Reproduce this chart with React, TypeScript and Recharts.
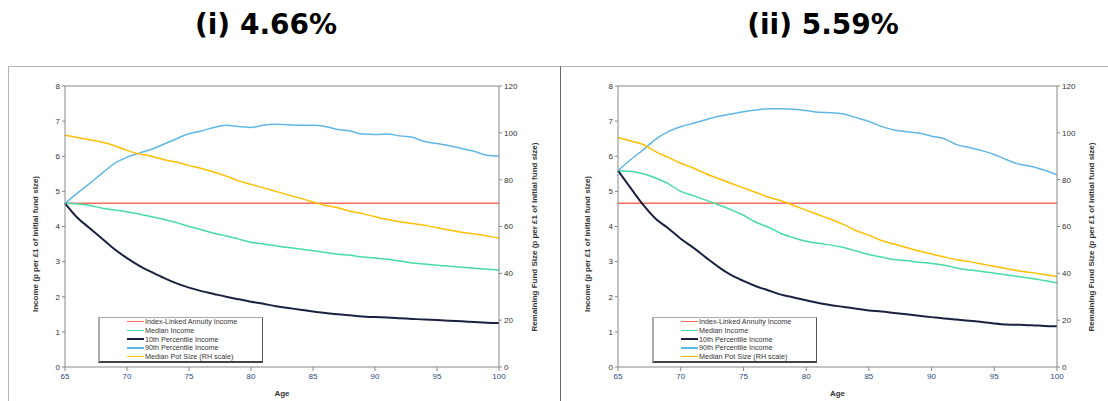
import React from 'react'
import { LineChart, Line, XAxis, YAxis, ReferenceLine } from 'recharts'

const ages = [
  65, 66, 67, 68, 69, 70, 71, 72, 73, 74, 75, 76, 77, 78, 79, 80, 81, 82,
  83, 84, 85, 86, 87, 88, 89, 90, 91, 92, 93, 94, 95, 96, 97, 98, 99, 100,
]

const titles = ['(i) 4.66%', '(ii) 5.59%']

// (i) 4.66% withdrawal
const annuityA = [
  4.66, 4.66, 4.66, 4.66, 4.66, 4.66, 4.66, 4.66, 4.66, 4.66, 4.66, 4.66,
  4.66, 4.66, 4.66, 4.66, 4.66, 4.66, 4.66, 4.66, 4.66, 4.66, 4.66, 4.66,
  4.66, 4.66, 4.66, 4.66, 4.66, 4.66, 4.66, 4.66, 4.66, 4.66, 4.66, 4.66,
]
const medianA = [
  4.66, 4.64, 4.6, 4.52, 4.47, 4.42, 4.35, 4.28, 4.2, 4.11, 4.0, 3.91, 3.81,
  3.73, 3.64, 3.55, 3.5, 3.45, 3.4, 3.36, 3.31, 3.26, 3.21, 3.18, 3.13, 3.1,
  3.07, 3.02, 2.96, 2.93, 2.9, 2.87, 2.84, 2.81, 2.79, 2.76,
]
const p10A = [
  4.66, 4.25, 3.95, 3.65, 3.35, 3.1, 2.88, 2.7, 2.53, 2.38, 2.26, 2.16, 2.08,
  2.0, 1.93, 1.86, 1.8, 1.73, 1.68, 1.63, 1.58, 1.54, 1.5, 1.47, 1.44, 1.42,
  1.41, 1.39, 1.37, 1.35, 1.34, 1.32, 1.3, 1.28, 1.26, 1.25,
]
const p90A = [
  4.66, 4.95, 5.23, 5.52, 5.8, 5.97, 6.09, 6.2, 6.35, 6.5, 6.64, 6.72, 6.82,
  6.88, 6.85, 6.82, 6.88, 6.91, 6.9, 6.88, 6.88, 6.85, 6.76, 6.72, 6.63, 6.62,
  6.63, 6.58, 6.54, 6.42, 6.36, 6.3, 6.22, 6.14, 6.03, 6.0,
]
const potA = [
  99, 98, 97, 96, 94.5, 92.5, 91, 90, 88.5, 87.5, 86, 84.8, 83.3, 81.5, 79.5,
  78, 76.5, 75, 73.5, 72, 70.5, 69, 68, 66.5, 65.5, 64.2, 63, 62, 61.3, 60.5,
  59.5, 58.5, 57.5, 56.8, 56, 55,
]

// (ii) 5.59% withdrawal
const annuityB = [
  4.66, 4.66, 4.66, 4.66, 4.66, 4.66, 4.66, 4.66, 4.66, 4.66, 4.66, 4.66,
  4.66, 4.66, 4.66, 4.66, 4.66, 4.66, 4.66, 4.66, 4.66, 4.66, 4.66, 4.66,
  4.66, 4.66, 4.66, 4.66, 4.66, 4.66, 4.66, 4.66, 4.66, 4.66, 4.66, 4.66,
]
const medianB = [
  5.59, 5.57, 5.5, 5.38, 5.22, 5.0, 4.88, 4.75, 4.62, 4.48, 4.32, 4.12, 3.98,
  3.8, 3.68, 3.58, 3.52, 3.47, 3.4, 3.3, 3.2, 3.13, 3.06, 3.03, 2.98, 2.95,
  2.9, 2.82, 2.76, 2.72, 2.67, 2.62, 2.57, 2.52, 2.46, 2.4,
]
const p10B = [
  5.59, 5.1, 4.62, 4.22, 3.95, 3.65, 3.4, 3.12, 2.85, 2.62, 2.45, 2.3, 2.18,
  2.06, 1.98, 1.9, 1.82, 1.76, 1.71, 1.66, 1.61, 1.58, 1.54, 1.5, 1.46, 1.42,
  1.38, 1.35, 1.32, 1.28, 1.24, 1.21, 1.2, 1.19, 1.17, 1.16,
]
const p90B = [
  5.59, 5.9, 6.18, 6.48, 6.7, 6.84, 6.94, 7.04, 7.14, 7.2, 7.27, 7.32, 7.35,
  7.35, 7.34, 7.3, 7.25, 7.24, 7.2, 7.1, 6.99, 6.85, 6.75, 6.7, 6.66, 6.57,
  6.5, 6.33, 6.25, 6.16, 6.05, 5.9, 5.77, 5.71, 5.6, 5.47,
]
const potB = [
  98, 96.5, 95, 92, 89.5, 87, 85, 82.5, 80.5, 78.5, 76.5, 74.5, 72.5, 71, 69,
  67, 65, 63, 60.8, 58.2, 56.3, 54, 52.5, 51, 49.5, 48.3, 47, 45.8, 45, 44,
  43, 42, 41, 40.3, 39.5, 38.6,
]

const leftTicks = [0, 1, 2, 3, 4, 5, 6, 7, 8]
const rightTicks = [0, 20, 40, 60, 80, 100, 120]
const xTicks = [65, 70, 75, 80, 85, 90, 95, 100]

const seriesNames = [
  'Index-Linked Annuity Income',
  'Median Income',
  '10th Percentile Income',
  '90th Percentile Income',
  'Median Pot Size (RH scale)',
]
const seriesColors = ['#fa6e5e', '#45dca4', '#1b2140', '#5fb7e6', '#ffbf00']
const seriesWidths = [1.5, 1.5, 2, 1.5, 1.5]
const keys = ['annuity', 'median', 'p10', 'p90', 'pot']

const FONT = '"Liberation Sans", Arial, sans-serif'
const CHART_TOP = 66
const CHART_H = 335

function buildRows(sets: number[][]) {
  return ages.map((age, i) => ({
    age,
    annuity: sets[0][i],
    median: sets[1][i],
    p10: sets[2][i],
    p90: sets[3][i],
    pot: sets[4][i],
  }))
}

const panels = [
  {
    title: titles[0],
    rows: buildRows([annuityA, medianA, p10A, p90A, potA]),
    left: 8,
    width: 552,
    leftW: 57,
    rightW: 61,
    legendX: 98,
    titleX: 266,
    leftTitleX: 35,
    rightTitleX: 534,
  },
  {
    title: titles[1],
    rows: buildRows([annuityB, medianB, p10B, p90B, potB]),
    left: 560,
    width: 548,
    leftW: 58,
    rightW: 51,
    legendX: 652,
    titleX: 823,
    leftTitleX: 587,
    rightTitleX: 1091,
  },
]

function LegendBox({ x }: { x: number }) {
  return (
    <div
      style={{
        position: 'absolute',
        left: x,
        top: 317,
        width: 165,
        height: 46,
        boxSizing: 'border-box',
        background: '#fff',
        borderTop: '1px solid #aaa',
        borderLeft: '2px solid #aaa',
        borderRight: '1px solid #555',
        borderBottom: '2px solid #444',
        fontFamily: FONT,
        fontSize: 7.2,
        color: '#333',
      }}
    >
      {seriesNames.map((n, i) => (
        <div
          key={n}
          style={{
            position: 'absolute',
            left: 27,
            top: -1 + i * 8.8,
            height: 9,
            whiteSpace: 'nowrap',
          }}
        >
          <span
            style={{
              position: 'absolute',
              left: 0,
              top: 4.5 - seriesWidths[i] / 2,
              width: 17,
              height: seriesWidths[i],
              background: seriesColors[i],
            }}
          />
          <span
            style={{
              position: 'absolute',
              left: 18,
              top: 0,
              height: 9,
              lineHeight: '9px',
            }}
          >
            {n}
          </span>
        </div>
      ))}
    </div>
  )
}

function Panel({ p }: { p: (typeof panels)[number] }) {
  const leftX = p.leftTitleX - p.left
  const leftY = 244 - CHART_TOP
  const rightX = p.rightTitleX - p.left
  const rightY = 237 - CHART_TOP
  return (
    <>
      <div
        style={{
          position: 'absolute',
          left: p.titleX - 150,
          width: 300,
          top: 8,
          textAlign: 'center',
          fontFamily: '"DejaVu Sans", Verdana, sans-serif',
          fontWeight: 'bold',
          fontSize: 28,
          color: '#000',
        }}
      >
        {p.title}
      </div>
      <div
        style={{
          position: 'absolute',
          left: p.left,
          top: CHART_TOP,
          width: p.width + 2,
          height: 340,
          boxSizing: 'border-box',
          borderTop: '1px solid #b5b5b5',
          borderLeft: p.left > 100 ? '1px solid #666' : '1px solid #b5b5b5',
        }}
      />
      <div style={{ position: 'absolute', left: p.left, top: CHART_TOP }}>
        <LineChart
          width={p.width}
          height={CHART_H}
          data={p.rows}
          margin={{ top: 20, right: 0, left: 0, bottom: 0 }}
          style={{ fontFamily: FONT }}
        >
          <XAxis
            dataKey="age"
            type="number"
            domain={[65, 100]}
            ticks={xTicks}
            height={34}
            tickSize={4}
            stroke="#888"
            tick={{ fontSize: 8, fill: '#2a4a7f' }}
            label={{
              value: 'Age',
              position: 'insideBottom',
              offset: 5,
              style: { fontSize: 8, fontWeight: 'bold', fill: '#333' },
            }}
          />
          <YAxis
            yAxisId="left"
            domain={[0, 8]}
            ticks={leftTicks}
            width={p.leftW}
            tickSize={3}
            stroke="#888"
            tick={{ fontSize: 8, fill: '#333' }}
            label={{
              content: () => (
                <text
                  x={leftX}
                  y={leftY}
                  transform={`rotate(-90, ${leftX}, ${leftY})`}
                  textAnchor="middle"
                  dominantBaseline="central"
                  fontSize={8}
                  fontWeight="bold"
                  fill="#333"
                >
                  Income (p per £1 of initial fund size)
                </text>
              ),
            }}
          />
          <YAxis
            yAxisId="right"
            orientation="right"
            domain={[0, 120]}
            ticks={rightTicks}
            width={p.rightW}
            tickSize={3}
            stroke="#888"
            tick={{ fontSize: 8, fill: '#333' }}
            label={{
              content: () => (
                <text
                  x={rightX}
                  y={rightY}
                  transform={`rotate(-90, ${rightX}, ${rightY})`}
                  textAnchor="middle"
                  dominantBaseline="central"
                  fontSize={8}
                  fontWeight="bold"
                  fill="#333"
                >
                  Remaining Fund Size (p per £1 of initial fund size)
                </text>
              ),
            }}
          />
          <ReferenceLine yAxisId="left" y={8} stroke="#888" />
          {keys.map((k, i) => (
            <Line
              key={k}
              yAxisId={k === 'pot' ? 'right' : 'left'}
              dataKey={k}
              name={seriesNames[i]}
              stroke={seriesColors[i]}
              strokeWidth={seriesWidths[i]}
              type="monotone"
              dot={false}
              activeDot={false}
              isAnimationActive={false}
            />
          ))}
        </LineChart>
      </div>
      <LegendBox x={p.legendX} />
    </>
  )
}

export default function App() {
  return (
    <div
      style={{
        position: 'absolute',
        left: 0,
        top: 0,
        width: 1108,
        height: 401,
        overflow: 'hidden',
        background: '#fff',
      }}
    >
      {panels.map((p) => (
        <Panel key={p.title} p={p} />
      ))}
    </div>
  )
}
